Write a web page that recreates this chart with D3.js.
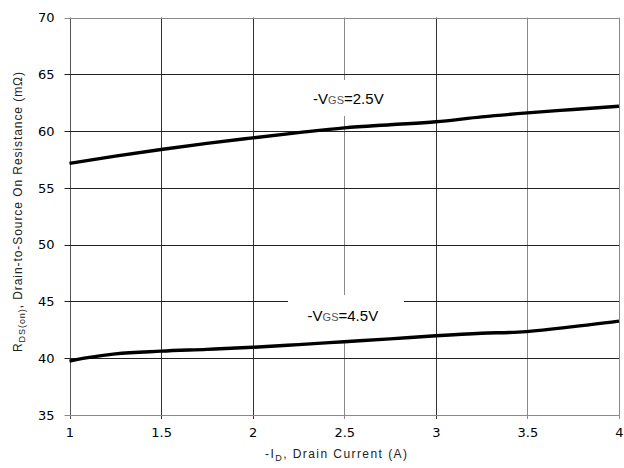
<!DOCTYPE html>
<html>
<head>
<meta charset="utf-8">
<script src="https://cdn.jsdelivr.net/npm/d3@7"></script>
<style>
  html, body { margin: 0; padding: 0; background: #fff; }
  svg { display: block; }
</style>
</head>
<body>
<svg id="chart" width="624" height="468"></svg>
<script>
// Drain current (A) sample points for each gate-voltage curve
const currentVgs25 = [1, 1.25, 1.5, 1.75, 2, 2.25, 2.5, 2.75, 3, 3.25, 3.5, 3.75, 4];
const rdsVgs25     = [57.15, 57.8, 58.38, 58.92, 59.4, 59.86, 60.28, 60.56, 60.82, 61.25, 61.6, 61.9, 62.19];

const currentVgs45 = [1, 1.1, 1.25, 1.5, 1.75, 2, 2.25, 2.5, 2.75, 3, 3.25, 3.45, 3.75, 4];
const rdsVgs45     = [39.75, 40.05, 40.38, 40.62, 40.78, 40.96, 41.2, 41.45, 41.7, 41.98, 42.2, 42.3, 42.78, 43.27];

const xTicks = [1, 1.5, 2, 2.5, 3, 3.5, 4];
const yTicks = [35, 40, 45, 50, 55, 60, 65, 70];

const curveLabels = [
  { vgs: "2.5", x: 2.33, y: 62.38 },
  { vgs: "4.5", x: 2.30, y: 43.3 }
];

const svg = d3.select("#chart");
const x = d3.scaleLinear().domain([1, 4]).range([69.5, 619]);
const y = d3.scaleLinear().domain([35, 70]).range([415, 17.5]);

// grid
const vColor = v => (v === 2.5 || v === 3.5 || v === 4) ? "#8a8a8a" : (v === 1 ? "#555" : "#333");
const hColor = v => (v === 35 || v === 70) ? "#8a8a8a" : "#222";

svg.append("g").selectAll("line").data(xTicks).join("line")
  .attr("x1", d => Math.round(x(d)) + 0.5).attr("x2", d => Math.round(x(d)) + 0.5)
  .attr("y1", y(70)).attr("y2", y(35) + 4)
  .attr("stroke", vColor).attr("stroke-width", 1);

svg.append("g").selectAll("line").data(yTicks).join("line")
  .attr("x1", x(1) - 5).attr("x2", x(4))
  .attr("y1", d => Math.round(y(d)) + 0.5).attr("y2", d => Math.round(y(d)) + 0.5)
  .attr("stroke", hColor).attr("stroke-width", 1);

// tick labels via axes
const yAxis = svg.append("g").attr("transform", `translate(${x(1) - 5},0)`)
  .call(d3.axisLeft(y).tickValues(yTicks).tickSize(0).tickPadding(10).tickFormat(d3.format("d")));
const xAxis = svg.append("g").attr("transform", `translate(0,${y(35) + 4})`)
  .call(d3.axisBottom(x).tickValues(xTicks).tickSize(0).tickPadding(9).tickFormat(d => String(d)));
[yAxis, xAxis].forEach(a => {
  a.select(".domain").remove();
  a.selectAll("text").attr("font-family", "'DejaVu Sans', Verdana, sans-serif")
    .attr("font-size", 13).attr("fill", "#000");
});

// label boxes that mask the grid
svg.append("rect").attr("x", 305).attr("y", 80).attr("width", 95).attr("height", 36).attr("fill", "#fff");
svg.append("rect").attr("x", 288).attr("y", 295).attr("width", 116).attr("height", 45).attr("fill", "#fff");

curveLabels.forEach(l => {
  const t = svg.append("text")
    .attr("x", x(l.x)).attr("y", y(l.y))
    .attr("font-family", "'Liberation Sans', Arial, sans-serif")
    .attr("font-size", 15).attr("fill", "#000");
  t.append("tspan").text("-V");
  t.append("tspan").attr("font-size", 11).attr("fill", "#555").text("GS");
  t.append("tspan").text("=" + l.vgs + "V");
});

// curves
const line = d3.line().x(d => x(d[0])).y(d => y(d[1])).curve(d3.curveMonotoneX);
[[currentVgs25, rdsVgs25], [currentVgs45, rdsVgs45]].forEach(([xs, ys]) => {
  svg.append("path")
    .datum(xs.map((v, i) => [v, ys[i]]))
    .attr("d", line)
    .attr("fill", "none").attr("stroke", "#000")
    .attr("stroke-width", 3.4).attr("stroke-linecap", "butt");
});

// axis titles
const xt = svg.append("text")
  .attr("x", 336).attr("y", 458).attr("text-anchor", "middle")
  .attr("font-family", "'Liberation Sans', Arial, sans-serif")
  .attr("font-size", 12).attr("fill", "#222")
  .attr("textLength", 142).attr("lengthAdjust", "spacing");
xt.append("tspan").text("-I");
xt.append("tspan").attr("font-size", 9).attr("dy", 3).text("D");
xt.append("tspan").attr("dy", -3).text(", Drain Current (A)");

const yt = svg.append("text")
  .attr("transform", "translate(22,212) rotate(-90)")
  .attr("text-anchor", "middle")
  .attr("font-family", "'Liberation Sans', Arial, sans-serif")
  .attr("font-size", 12).attr("fill", "#222")
  .attr("textLength", 280).attr("lengthAdjust", "spacing");
yt.append("tspan").text("R");
yt.append("tspan").attr("font-size", 9).attr("dy", 3).text("DS(on)");
yt.append("tspan").attr("dy", -3).text(", Drain-to-Source On Resistance (mΩ)");
</script>
</body>
</html>
